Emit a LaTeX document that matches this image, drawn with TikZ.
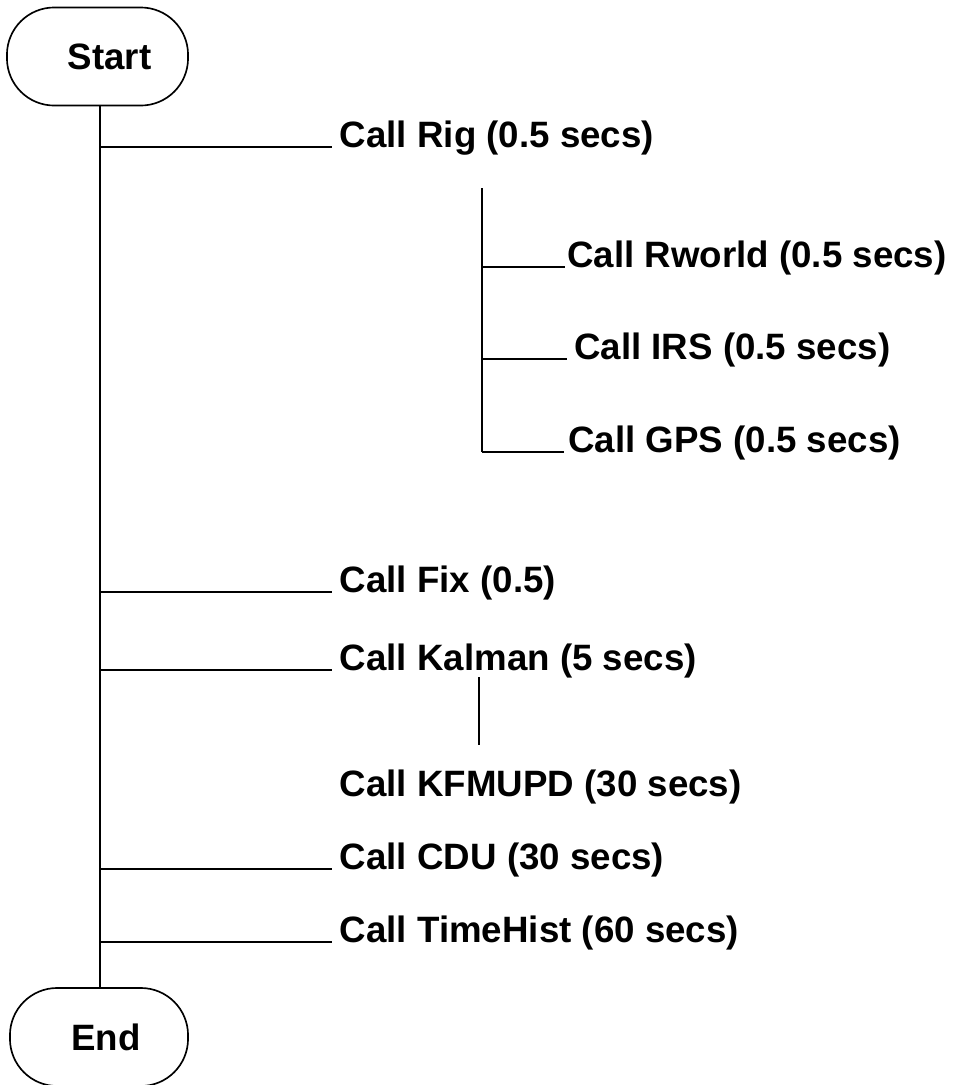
\documentclass[tikz,border=0pt]{standalone}
\usepackage{fontspec}
\setmainfont{Liberation Sans}
\usetikzlibrary{positioning}
\tikzset{
  termbox/.style={draw=black, line width=1.2pt, rounded corners=12mm,
    minimum width=1.8in, minimum height=0.98in, inner sep=0pt,
    font=\fontsize{26.5}{30}\selectfont\bfseries},
  calltxt/.style={anchor=base west, inner ysep=0pt, inner xsep=5.5pt,
    font=\fontsize{26.5}{30}\selectfont\bfseries},
  subtxt/.style={calltxt, inner xsep=1.5pt},
  wire/.style={line width=1.2pt},
}

\begin{document}
\begin{tikzpicture}[x=0.01in, y=-0.01in]
  \useasboundingbox (0,0) rectangle (956,1085);

  %% ---- terminals ----
  \node[termbox, minimum width=1.81in] (start) at (97.5, 56.5) {\hspace*{0.24in}Start};
  \node[termbox, minimum width=1.78in] (end)   at (99, 1037)  {\hspace*{0.14in}End};

  %% ---- main calls ----
  \node[calltxt] (rig)   at (332, 147) {Call Rig (0.5 secs)};
  \node[calltxt] (fix)   at (332, 592) {Call Fix (0.5)};
  \node[calltxt] (kal)   at (332, 670) {Call Kalman (5 secs)};
  \node[calltxt] (kfm)   at (332, 796) {Call KFMUPD (30 secs)};
  \node[calltxt] (cdu)   at (332, 869) {Call CDU (30 secs)};
  \node[calltxt] (thist) at (332, 942) {Call TimeHist (60 secs)};

  %% ---- calls under Rig ----
  \node[subtxt] (rw)  at (565, 267) {Call Rworld (0.5 secs)};
  \node[subtxt, inner xsep=5pt] (irs) at (567, 359) {Call IRS (0.5 secs)};
  \node[subtxt, inner xsep=3pt] (gps) at (564, 452) {Call GPS (0.5 secs)};

  %% ---- junctions ----
  \coordinate (jrig) at (100, 147);
  \coordinate (jfix) at (100, 592);
  \coordinate (jkal) at (100, 670);
  \coordinate (jcdu) at (100, 869);
  \coordinate (jth)  at (100, 942);
  \coordinate (stop) at (482, 188);
  \coordinate (jrw)  at (482, 267);
  \coordinate (jirs) at (482, 359);
  \coordinate (jgps) at (482, 452);
  \coordinate (ktop) at (479, 677);
  \coordinate (kbot) at (479, 745);

  %% ---- lines ----
  \draw[wire] (start.south -| jrig) -- (end.north -| jrig);
  \foreach \j/\n in {jrig/rig, jfix/fix, jkal/kal, jcdu/cdu, jth/thist}
    \draw[wire] (\j) -- (\n.base west);
  \draw[wire] (stop) -- (jgps);
  \foreach \j/\n in {jrw/rw, jirs/irs, jgps/gps}
    \draw[wire] (\j) -- (\n.base west);
  \draw[wire] (ktop) -- (kbot);

\end{tikzpicture}
\end{document}
